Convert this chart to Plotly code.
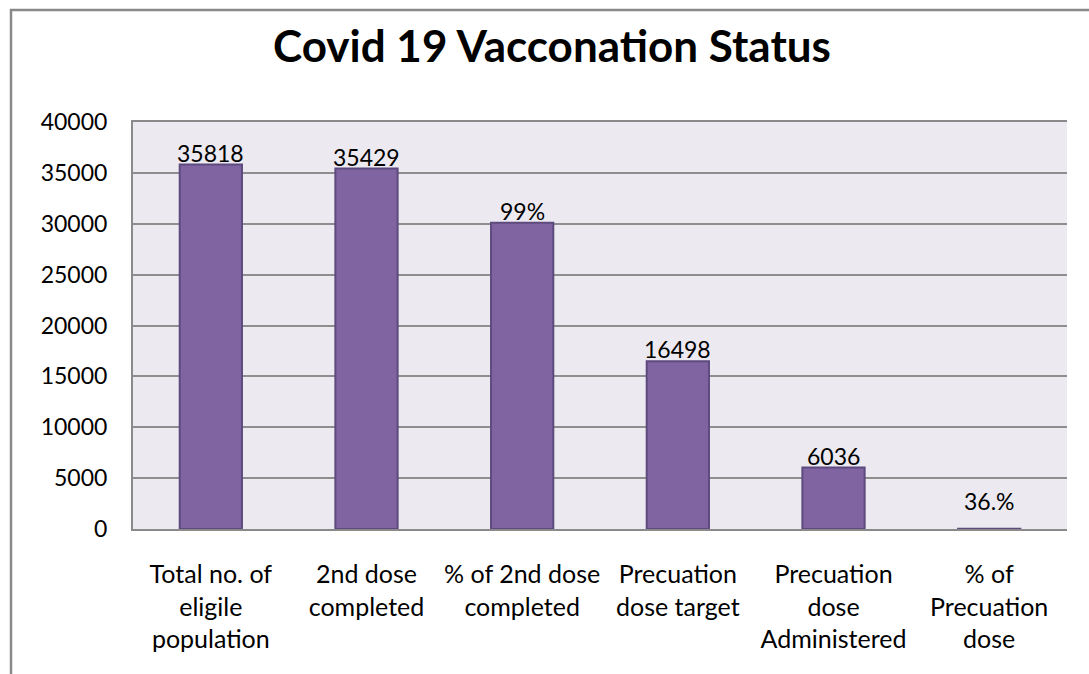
import plotly.graph_objects as go

categories = [
    "Total no. of<br>eligile<br>population",
    "2nd dose<br>completed",
    "% of 2nd dose<br>completed",
    "Precuation<br>dose target",
    "Precuation<br>dose<br>Administered",
    "% of<br>Precuation<br>dose",
]
values = [35818, 35429, 30100, 16498, 6036, 36]
labels = ["35818", "35429", "99%", "16498", "6036", "36.%"]
label_shift = [0, 0, 0, 0, 0, 16]

FONT = "Lato"
W, H = 1089, 674
L, R, T, B = 133, 22, 122, 145
pw, ph = W - L - R, H - T - B

fig = go.Figure()
fig.add_trace(go.Bar(
    x=categories, y=values,
    marker=dict(color="#8064A2", line=dict(color="#5D4A7E", width=2)),
    hoverinfo="skip",
))

for c, v, t, s in zip(categories, values, labels, label_shift):
    fig.add_annotation(x=c, y=v, text=t, showarrow=False, yanchor="bottom",
                       yshift=s - 4, font=dict(family=FONT, size=23, color="#000"))

# outer chart frame (extends beyond the cropped picture on right/bottom)
def px_x(p):
    return (p - L) / pw
def px_y(p):
    return (H - B - p) / ph

fig.add_shape(type="rect", xref="paper", yref="paper",
              x0=px_x(11), x1=px_x(1100), y0=px_y(700), y1=px_y(10),
              line=dict(color="#898989", width=2.5), layer="below")

fig.update_layout(
    width=W, height=H,
    margin=dict(l=L, r=R, t=T, b=B, autoexpand=False),
    paper_bgcolor="white", plot_bgcolor="#ECEAF0",
    bargap=0.6,
    showlegend=False,
    title=dict(text="<b>Covid 19 Vacconation Status</b>", x=552 / W, xref="container",
               xanchor="center", y=1 - 47 / H, yanchor="middle",
               font=dict(family=FONT, size=44, color="#000")),
    font=dict(family=FONT, size=23, color="#000"),
)
fig.update_xaxes(showline=True, linecolor="#8A8A8A", linewidth=2, mirror=True,
                 ticks="outside", ticklen=22, tickcolor="rgba(0,0,0,0)",
                 tickfont=dict(family=FONT, size=25, color="#000"))
fig.update_yaxes(range=[0, 40000], dtick=5000, tickformat="d", showgrid=True,
                 gridcolor="#8E8E8E", gridwidth=2, zeroline=False, showline=True,
                 linecolor="#8A8A8A", linewidth=2, ticks="outside", ticklen=19,
                 tickcolor="rgba(0,0,0,0)",
                 tickfont=dict(family=FONT, size=23, color="#000"))

fig.write_html("out.html", config={"displayModeBar": False},
               post_script="document.body.style.margin='0';document.body.style.overflow='hidden';")
